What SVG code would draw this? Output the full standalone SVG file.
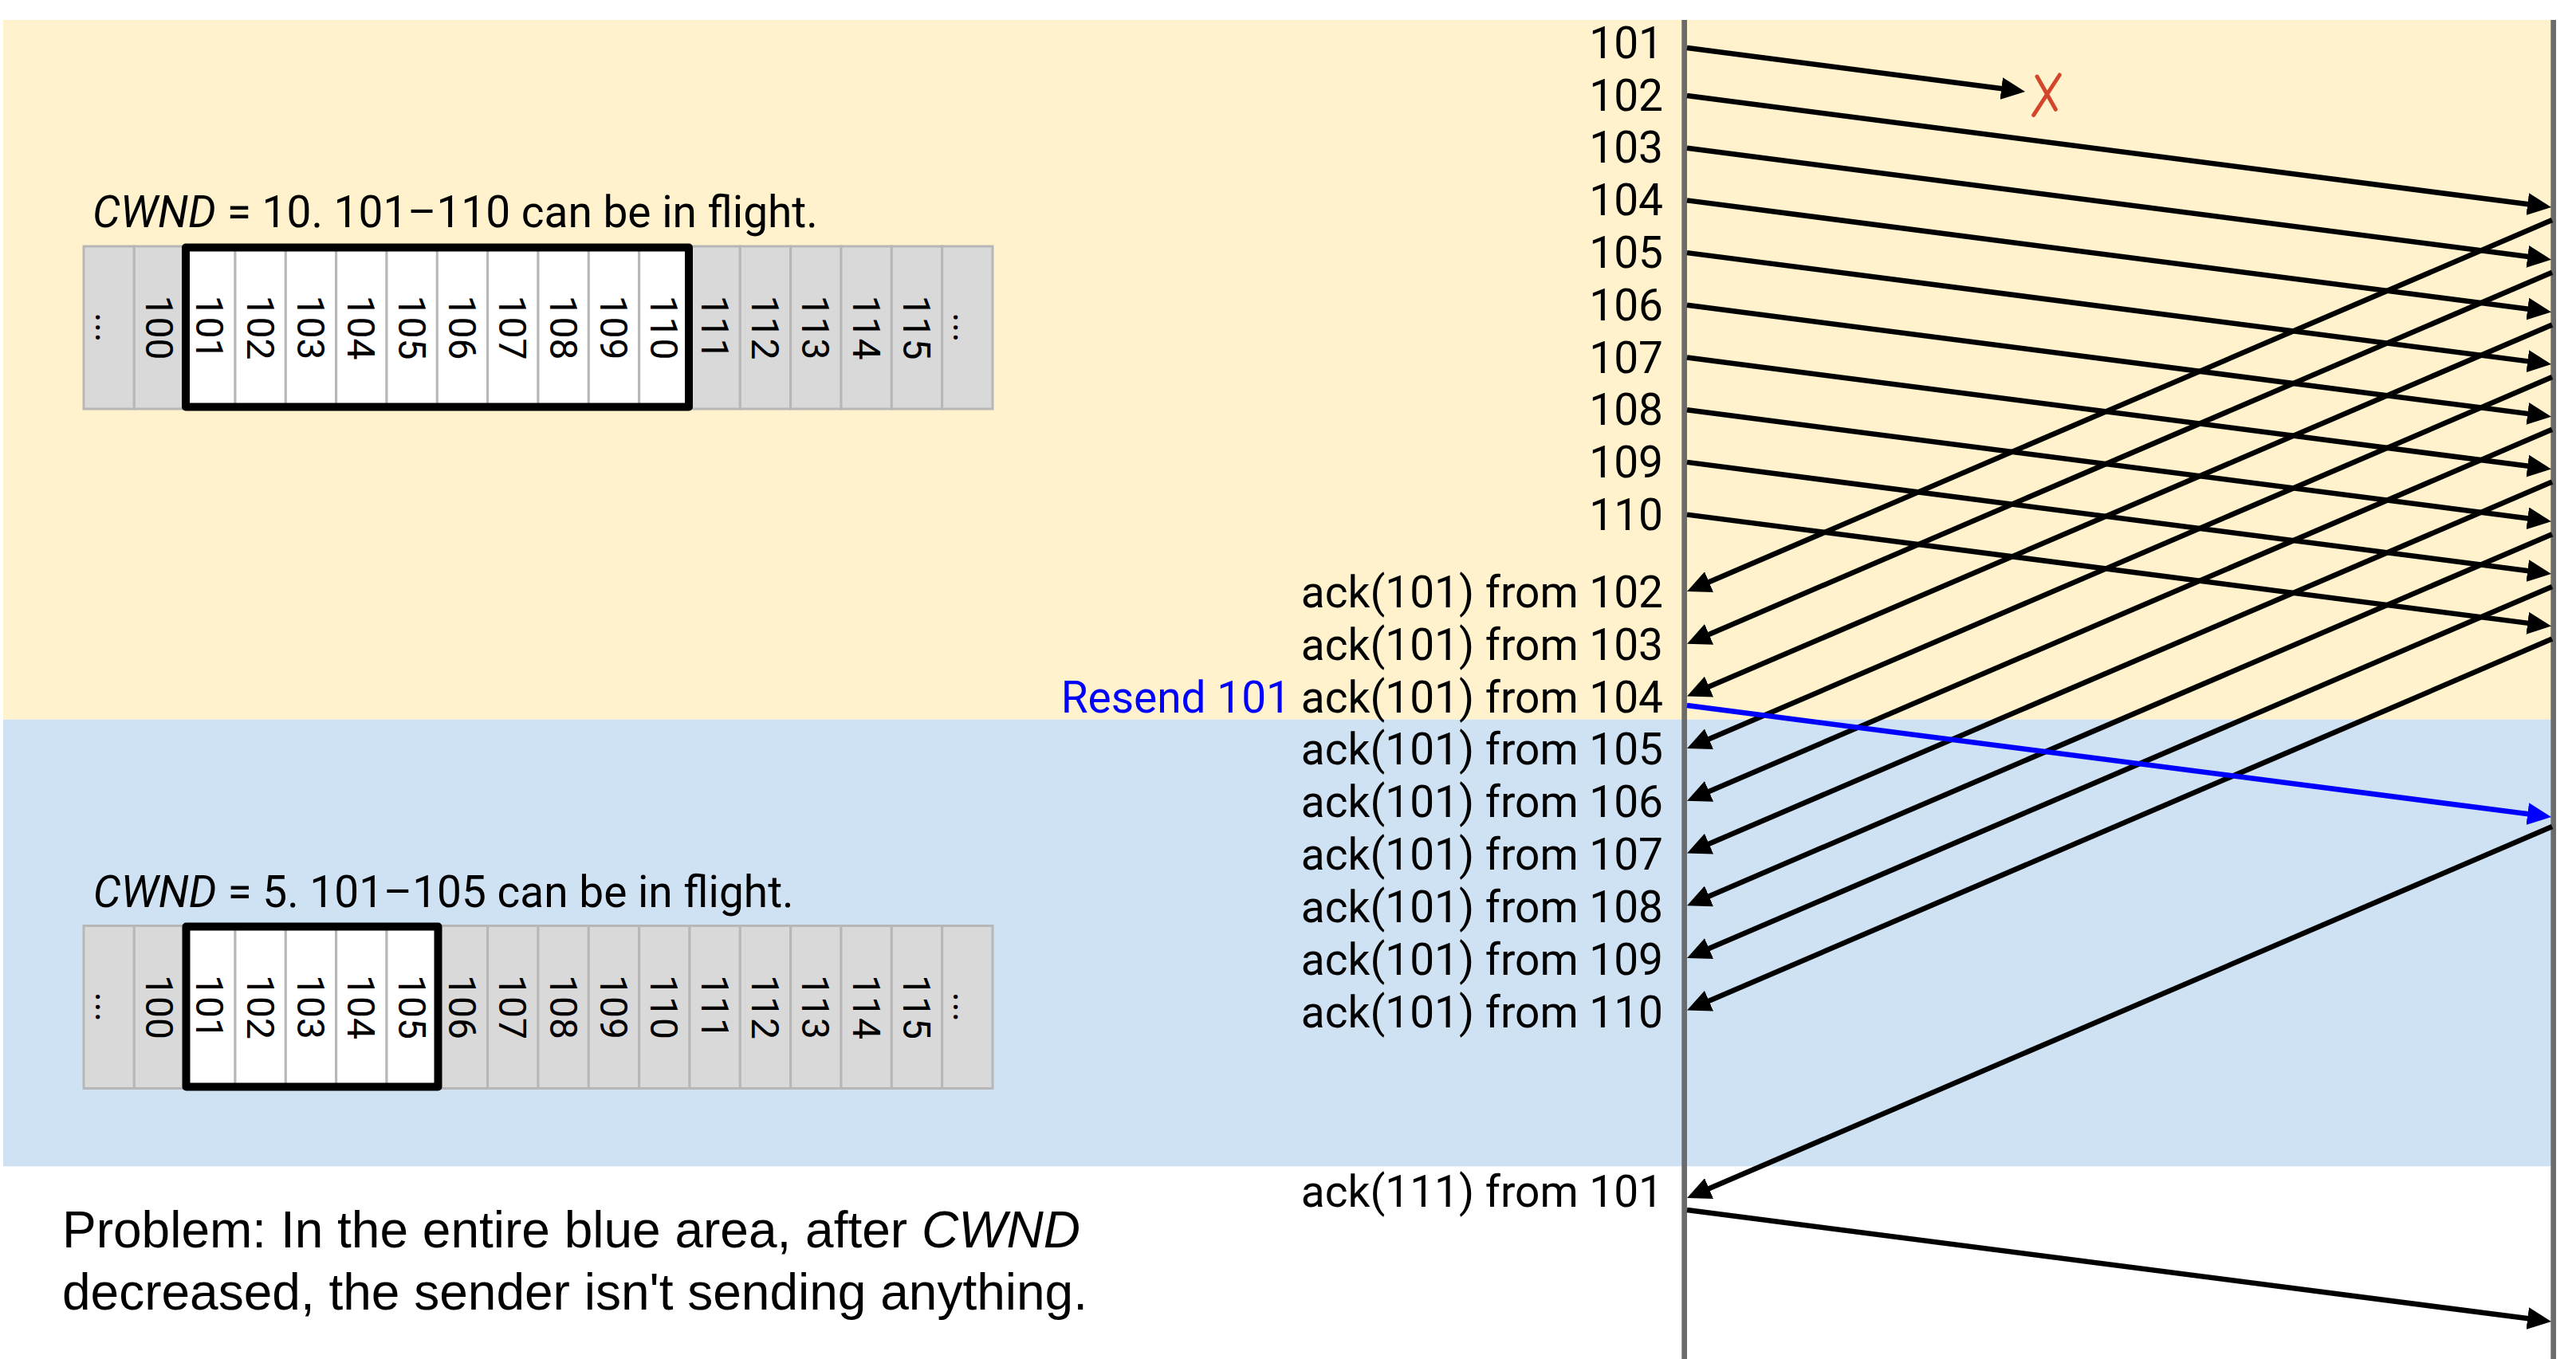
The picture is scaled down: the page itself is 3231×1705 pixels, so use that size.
<svg xmlns="http://www.w3.org/2000/svg" width="3231" height="1705" viewBox="0 0 3231 1705">
<style>
.lbl{font-family:Roboto,"Liberation Sans",sans-serif;font-size:55px;fill:#000}
.end{text-anchor:end}
.cap{font-family:Roboto,"Liberation Sans",sans-serif;font-size:55px;fill:#000}
.cell{font-family:Roboto,"Liberation Sans",sans-serif;font-size:48px;fill:#000;text-anchor:middle}
.g{fill:#d9d9d9;stroke:#b7b7b7;stroke-width:3}
.w{fill:#ffffff;stroke:#b7b7b7;stroke-width:3}
.win{fill:none;stroke:#000;stroke-width:10;stroke-linejoin:round}
.tl{fill:#6b6b6b}
.data{stroke:#000;stroke-width:6.5;fill:none;marker-end:url(#ah)}
.blue{stroke:#0000ff;stroke-width:6.5;fill:none;marker-end:url(#ahb)}
.note{font-family:"Liberation Sans",Arial,sans-serif;font-size:64px;fill:#000}
</style>
<defs>
<marker id="ah" markerUnits="userSpaceOnUse" markerWidth="30" markerHeight="28" refX="9" refY="14" orient="auto" viewBox="0 0 30 28"><path d="M0,0 L30,14 L0,28 z" fill="#000"/></marker>
<marker id="ahb" markerUnits="userSpaceOnUse" markerWidth="30" markerHeight="28" refX="9" refY="14" orient="auto" viewBox="0 0 30 28"><path d="M0,0 L30,14 L0,28 z" fill="#0000ff"/></marker>
</defs>
<rect width="3231" height="1705" fill="#ffffff"/>
<g id="phase-before">
<rect x="4" y="25" width="3199" height="877.7" fill="#fff2cc"/>
</g>
<g id="phase-after">
<rect x="4" y="902.7" width="3199" height="560.6" fill="#cfe2f3"/>
</g>
<g id="timeline-sender"><rect class="tl" x="2109.3" y="25" width="6.7" height="1680"/></g>
<g id="timeline-receiver"><rect class="tl" x="3199.3" y="25" width="6.7" height="1680"/></g>

<g id="window-cwnd10">
<text class="cap" x="116" y="285"><tspan font-style="italic">CWND</tspan> = 10. 101–110 can be in flight.</text>
<rect class="g" x="105" y="309" width="63.33" height="204"/>
<rect class="g" x="168.33" y="309" width="63.33" height="204"/>
<rect class="w" x="231.67" y="309" width="63.33" height="204"/>
<rect class="w" x="295" y="309" width="63.33" height="204"/>
<rect class="w" x="358.33" y="309" width="63.33" height="204"/>
<rect class="w" x="421.67" y="309" width="63.33" height="204"/>
<rect class="w" x="485" y="309" width="63.33" height="204"/>
<rect class="w" x="548.33" y="309" width="63.33" height="204"/>
<rect class="w" x="611.67" y="309" width="63.33" height="204"/>
<rect class="w" x="675" y="309" width="63.33" height="204"/>
<rect class="w" x="738.33" y="309" width="63.33" height="204"/>
<rect class="w" x="801.67" y="309" width="63.33" height="204"/>
<rect class="g" x="865" y="309" width="63.33" height="204"/>
<rect class="g" x="928.33" y="309" width="63.33" height="204"/>
<rect class="g" x="991.67" y="309" width="63.33" height="204"/>
<rect class="g" x="1055" y="309" width="63.33" height="204"/>
<rect class="g" x="1118.33" y="309" width="63.33" height="204"/>
<rect class="g" x="1181.67" y="309" width="63.33" height="204"/>
<text class="cell" transform="translate(136.67,411) rotate(90)" y="17">...</text>
<text class="cell" transform="translate(200,411) rotate(90)" y="17">100</text>
<text class="cell" transform="translate(263.33,411) rotate(90)" y="17">101</text>
<text class="cell" transform="translate(326.67,411) rotate(90)" y="17">102</text>
<text class="cell" transform="translate(390,411) rotate(90)" y="17">103</text>
<text class="cell" transform="translate(453.33,411) rotate(90)" y="17">104</text>
<text class="cell" transform="translate(516.67,411) rotate(90)" y="17">105</text>
<text class="cell" transform="translate(580,411) rotate(90)" y="17">106</text>
<text class="cell" transform="translate(643.33,411) rotate(90)" y="17">107</text>
<text class="cell" transform="translate(706.67,411) rotate(90)" y="17">108</text>
<text class="cell" transform="translate(770,411) rotate(90)" y="17">109</text>
<text class="cell" transform="translate(833.33,411) rotate(90)" y="17">110</text>
<text class="cell" transform="translate(896.67,411) rotate(90)" y="17">111</text>
<text class="cell" transform="translate(960,411) rotate(90)" y="17">112</text>
<text class="cell" transform="translate(1023.33,411) rotate(90)" y="17">113</text>
<text class="cell" transform="translate(1086.67,411) rotate(90)" y="17">114</text>
<text class="cell" transform="translate(1150,411) rotate(90)" y="17">115</text>
<text class="cell" transform="translate(1213.33,411) rotate(90)" y="17">...</text>
<rect class="win" x="233" y="310.5" width="631" height="200"/>
</g>

<g id="window-cwnd5">
<text class="cap" x="116.7" y="1137.5"><tspan font-style="italic">CWND</tspan> = 5. 101–105 can be in flight.</text>
<rect class="g" x="105" y="1161.5" width="63.33" height="204"/>
<rect class="g" x="168.33" y="1161.5" width="63.33" height="204"/>
<rect class="w" x="231.67" y="1161.5" width="63.33" height="204"/>
<rect class="w" x="295" y="1161.5" width="63.33" height="204"/>
<rect class="w" x="358.33" y="1161.5" width="63.33" height="204"/>
<rect class="w" x="421.67" y="1161.5" width="63.33" height="204"/>
<rect class="w" x="485" y="1161.5" width="63.33" height="204"/>
<rect class="g" x="548.33" y="1161.5" width="63.33" height="204"/>
<rect class="g" x="611.67" y="1161.5" width="63.33" height="204"/>
<rect class="g" x="675" y="1161.5" width="63.33" height="204"/>
<rect class="g" x="738.33" y="1161.5" width="63.33" height="204"/>
<rect class="g" x="801.67" y="1161.5" width="63.33" height="204"/>
<rect class="g" x="865" y="1161.5" width="63.33" height="204"/>
<rect class="g" x="928.33" y="1161.5" width="63.33" height="204"/>
<rect class="g" x="991.67" y="1161.5" width="63.33" height="204"/>
<rect class="g" x="1055" y="1161.5" width="63.33" height="204"/>
<rect class="g" x="1118.33" y="1161.5" width="63.33" height="204"/>
<rect class="g" x="1181.67" y="1161.5" width="63.33" height="204"/>
<text class="cell" transform="translate(136.67,1263.5) rotate(90)" y="17">...</text>
<text class="cell" transform="translate(200,1263.5) rotate(90)" y="17">100</text>
<text class="cell" transform="translate(263.33,1263.5) rotate(90)" y="17">101</text>
<text class="cell" transform="translate(326.67,1263.5) rotate(90)" y="17">102</text>
<text class="cell" transform="translate(390,1263.5) rotate(90)" y="17">103</text>
<text class="cell" transform="translate(453.33,1263.5) rotate(90)" y="17">104</text>
<text class="cell" transform="translate(516.67,1263.5) rotate(90)" y="17">105</text>
<text class="cell" transform="translate(580,1263.5) rotate(90)" y="17">106</text>
<text class="cell" transform="translate(643.33,1263.5) rotate(90)" y="17">107</text>
<text class="cell" transform="translate(706.67,1263.5) rotate(90)" y="17">108</text>
<text class="cell" transform="translate(770,1263.5) rotate(90)" y="17">109</text>
<text class="cell" transform="translate(833.33,1263.5) rotate(90)" y="17">110</text>
<text class="cell" transform="translate(896.67,1263.5) rotate(90)" y="17">111</text>
<text class="cell" transform="translate(960,1263.5) rotate(90)" y="17">112</text>
<text class="cell" transform="translate(1023.33,1263.5) rotate(90)" y="17">113</text>
<text class="cell" transform="translate(1086.67,1263.5) rotate(90)" y="17">114</text>
<text class="cell" transform="translate(1150,1263.5) rotate(90)" y="17">115</text>
<text class="cell" transform="translate(1213.33,1263.5) rotate(90)" y="17">...</text>
<rect class="win" x="233.5" y="1162.5" width="316" height="201"/>
</g>

<g id="seq-labels">
<g id="send-101"><text class="lbl end" x="2086" y="72.7">101</text></g>
<g id="send-102"><text class="lbl end" x="2086" y="138.5">102</text></g>
<g id="send-103"><text class="lbl end" x="2086" y="204.3">103</text></g>
<g id="send-104"><text class="lbl end" x="2086" y="270.1">104</text></g>
<g id="send-105"><text class="lbl end" x="2086" y="335.9">105</text></g>
<g id="send-106"><text class="lbl end" x="2086" y="401.7">106</text></g>
<g id="send-107"><text class="lbl end" x="2086" y="467.5">107</text></g>
<g id="send-108"><text class="lbl end" x="2086" y="533.3">108</text></g>
<g id="send-109"><text class="lbl end" x="2086" y="599.1">109</text></g>
<g id="send-110"><text class="lbl end" x="2086" y="664.9">110</text></g>
<g id="ack-102"><text class="lbl end" x="2086" y="761.7">ack(101) from 102</text></g>
<g id="ack-103"><text class="lbl end" x="2086" y="827.6">ack(101) from 103</text></g>
<g id="ack-104"><text class="lbl end" x="2086" y="893.5">ack(101) from 104</text></g>
<g id="resend-101"><text class="lbl end" x="1619" y="893.5" style="fill:#0000ff">Resend 101</text></g>
<g id="ack-105"><text class="lbl end" x="2086" y="959.4">ack(101) from 105</text></g>
<g id="ack-106"><text class="lbl end" x="2086" y="1025.3">ack(101) from 106</text></g>
<g id="ack-107"><text class="lbl end" x="2086" y="1091.2">ack(101) from 107</text></g>
<g id="ack-108"><text class="lbl end" x="2086" y="1157.1">ack(101) from 108</text></g>
<g id="ack-109"><text class="lbl end" x="2086" y="1223">ack(101) from 109</text></g>
<g id="ack-110"><text class="lbl end" x="2086" y="1288.9">ack(101) from 110</text></g>
<g id="ack-111"><text class="lbl end" x="2086" y="1514">ack(111) from 101</text></g>
</g>

<g id="note">
<text class="note" x="78" y="1565">Problem: In the entire blue area, after <tspan font-style="italic">CWND</tspan></text>
<text class="note" x="78" y="1642.7">decreased, the sender isn't sending anything.</text>
</g>

<g id="connectors">
<path class="data" d="M2116,60 L2519.2,112.3"/>
<path class="data" d="M2116,120 L3179.2,257.3"/>
<path class="data" d="M2116,185.7 L3179.2,323"/>
<path class="data" d="M2116,251.4 L3179.2,388.7"/>
<path class="data" d="M2116,317.1 L3179.2,454.4"/>
<path class="data" d="M2116,382.8 L3179.2,520.1"/>
<path class="data" d="M2116,448.5 L3179.2,585.8"/>
<path class="data" d="M2116,514.2 L3179.2,651.5"/>
<path class="data" d="M2116,579.9 L3179.2,717.2"/>
<path class="data" d="M2116,645.6 L3179.2,782.9"/>
<path class="data" d="M3201,276 L2135.3,733.7"/>
<path class="data" d="M3201,341.7 L2135.3,799.4"/>
<path class="data" d="M3201,407.4 L2135.3,865.1"/>
<path class="data" d="M3201,473.1 L2135.3,930.8"/>
<path class="data" d="M3201,538.8 L2135.3,996.5"/>
<path class="data" d="M3201,604.5 L2135.3,1062.2"/>
<path class="data" d="M3201,670.2 L2135.3,1127.9"/>
<path class="data" d="M3201,735.9 L2135.3,1193.6"/>
<path class="data" d="M3201,801.6 L2135.3,1259.3"/>
<path class="blue" d="M2116,885 L3179.2,1022.3"/>
<path class="data" d="M3201,1037 L2135.3,1494.7"/>
<path class="data" d="M2116,1518 L3179.2,1655.3"/>
</g>

<g id="loss-mark">
<path d="M2555,96 L2578.3,137.3 M2583.3,94 L2550.7,144.3" stroke="#d4462c" stroke-width="5" stroke-linecap="round" fill="none"/>
</g>
</svg>
